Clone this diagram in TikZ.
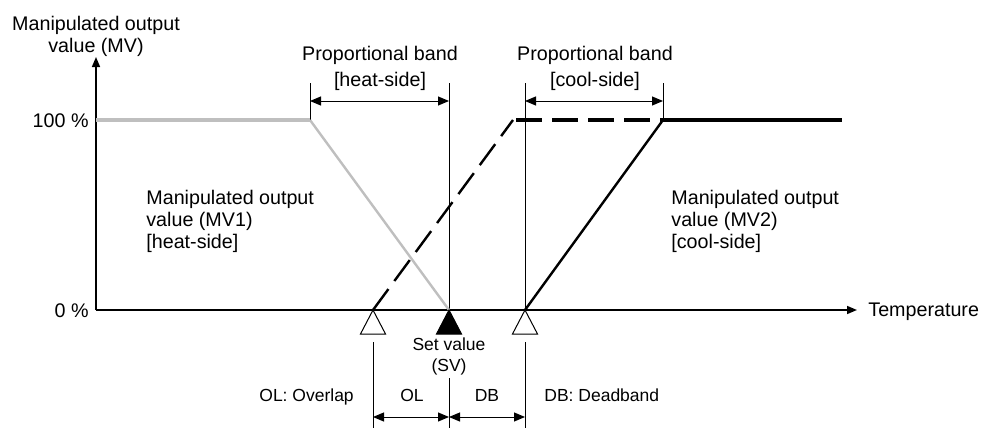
\documentclass[tikz,border=0pt]{standalone}
\usepackage{fontspec}
\setmainfont{Liberation Sans}
\usetikzlibrary{arrows.meta}

\begin{document}
\begin{tikzpicture}[
  x=0.5pt, y=-0.5pt,
  font=\fontsize{9.85}{11}\selectfont,
  axis/.style={-{Triangle[length=5pt, width=4pt]}, line width=0.75pt},
  guide/.style={line width=0.5pt},
  dim/.style={{Triangle[length=5.5pt, width=4.5pt]}-{Triangle[length=5.5pt, width=4.5pt]}, line width=0.5pt},
  heatline/.style={draw=black!25},
  coolline/.style={draw=black},
  coolol/.style={draw=black, dash pattern=on 13pt off 5pt},
  flat/.style={line width=1.8pt},
  slope/.style={line width=1.2pt},
  lab/.style={inner sep=0pt, align=left},
  small/.style={inner sep=0pt, font=\fontsize{8.75}{10.5}\selectfont},
  marker/.style={draw=black, line width=0.5pt, fill=white}
]
\useasboundingbox (0,0) rectangle (982,428);

% axes
\coordinate (o) at (96,310);
\coordinate (ytip) at (96,57);
\coordinate (xtip) at (857,310);
\draw[axis] (o) -- (ytip);
\draw[axis] (o) -- (xtip);

\node[lab, align=center] (mvaxis) at (96,36) {Manipulated output\\value (MV)};
\node[lab, anchor=base east] (full) at (89,127) {100 \%};
\node[lab, anchor=base east] (zero) at (89,317) {0 \%};
\node[lab, anchor=base west] (temp) at (868,316) {Temperature};

% key points on the temperature axis
\coordinate (ol) at (373,310);
\coordinate (sv) at (449,310);
\coordinate (db) at (525,310);
\coordinate (hp) at (310,120);
\coordinate (cp) at (663,120);

% guide lines
\draw[guide] (310,83) -- (hp);
\draw[guide] (449,83) -- (sv);
\draw[guide] (525,83) -- (db);
\draw[guide] (663,83) -- (cp);
\draw[guide] (373,342) -- (373,428);
\draw[guide] (449,378) -- (449,428);
\draw[guide] (525,342) -- (525,428);

% proportional bands
\draw[dim] (310,101) -- (449,101);
\draw[dim] (525,101) -- (663,101);
\node[lab, align=center, font=\fontsize{9.85}{13}\selectfont] (pbheat) at (380,68) {Proportional band\\{[heat-side]}};
\node[lab, align=center, font=\fontsize{9.85}{13}\selectfont] (pbcool) at (595,68) {Proportional band\\{[cool-side]}};

% output curves
\draw[heatline, flat] (96,120) -- (hp);
\draw[heatline, slope] (hp) -- (sv);
\draw[coolol, slope] (ol) -- (513,120);
\draw[coolol, flat] (516,120) -- (cp);
\draw[coolline, slope] (db) -- (cp);
\draw[coolline, flat] (cp) -- (842,120);

\node[lab, anchor=west] (mv1) at (146,221) {Manipulated output\\value (MV1)\\{[heat-side]}};
\node[lab, anchor=west] (mv2) at (671,221) {Manipulated output\\value (MV2)\\{[cool-side]}};

% markers
\draw[marker] (ol) -- ++(-12.5,24) -- ++(25,0) -- cycle;
\draw[marker, fill=black] (sv) -- ++(-12.5,24) -- ++(25,0) -- cycle;
\draw[marker] (db) -- ++(-12.5,24) -- ++(25,0) -- cycle;
\node[small, align=center] (svlab) at (449,356) {Set value\\(SV)};

% overlap and deadband
\draw[dim] (373,417) -- (449,417);
\draw[dim] (449,417) -- (525,417);
\node[small, anchor=base] (oltxt) at (412,401) {OL};
\node[small, anchor=base] (dbtxt) at (487,401) {DB};
\node[small, anchor=base west] (olkey) at (259,401) {OL: Overlap};
\node[small, anchor=base west] (dbkey) at (544,401) {DB: Deadband};
\end{tikzpicture}
\end{document}
